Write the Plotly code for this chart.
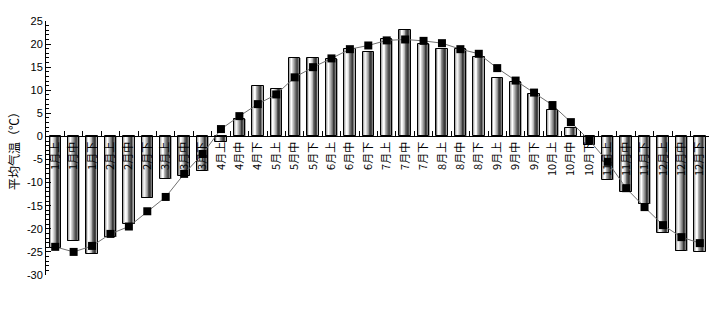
import plotly.graph_objects as go

categories = [f"{m}月{p}" for m in range(1, 13) for p in ["上", "中", "下"]]

bar_values = [-24.2, -22.6, -25.5, -21.8, -19.0, -13.3, -9.2, -8.6, -7.4,
              -1.2, 3.8, 10.9, 10.2, 16.9, 16.9, 16.7, 18.9, 18.2,
              21.0, 23.0, 20.0, 18.9, 18.9, 17.1, 12.6, 11.9, 9.1,
              5.7, 1.8, -1.9, -9.4, -12.0, -14.6, -20.9, -24.8, -25.0]

line_values = [-23.9, -25.0, -23.7, -21.1, -19.5, -16.2, -13.1, -8.1, -3.8,
               1.6, 4.4, 7.0, 9.1, 12.8, 15.0, 16.9, 18.9, 19.7,
               20.8, 21.0, 20.7, 20.2, 18.9, 17.9, 14.8, 12.1, 9.5,
               6.8, 3.1, -0.8, -5.5, -11.2, -15.3, -19.2, -21.8, -23.1]

y_tick_values = [-30, -25, -20, -15, -10, -5, 0, 5, 10, 15, 20, 25]
y_tick_labels = ["-30", "-25", "-20", "-15", "-10", "-5", "0", "5", "10", "15", "20", "25"]

# cylinder shading profile (left -> right)
shade = ["#7a7a7a", "#b0b0b0", "#e0e0e0", "#ffffff", "#f2f2f2", "#d6d6d6",
         "#b4b4b4", "#929292", "#707070", "#505050", "#383838", "#484848",
         "#7c7c7c", "#adadad"]

BAR_W = 0.62
fig = go.Figure()
n = len(shade)
sw = BAR_W / n
for k, c in enumerate(shade):
    fig.add_trace(go.Bar(
        x=categories, y=bar_values, width=sw, offset=-BAR_W / 2 + k * sw,
        marker=dict(color=c, line=dict(width=0)), showlegend=False,
        hoverinfo="skip"))

fig.add_trace(go.Bar(
    x=categories, y=bar_values, width=BAR_W, offset=-BAR_W / 2,
    marker=dict(color="rgba(0,0,0,0)", line=dict(color="black", width=1)),
    showlegend=False))

fig.add_trace(go.Scatter(
    x=categories, y=line_values, mode="lines+markers",
    line=dict(color="#707070", width=1),
    marker=dict(symbol="square", size=8, color="black"),
    showlegend=False))

fig.update_layout(
    width=710, height=320,
    margin=dict(l=46, r=1, t=21, b=45),
    paper_bgcolor="white", plot_bgcolor="white",
    barmode="overlay", bargap=0,
    font=dict(family="Liberation Sans, Arial, sans-serif", size=11, color="black"),
)

fig.update_xaxes(
    type="category", range=[-0.5, 35.5],
    anchor="free", position=30 / 55,
    showline=True, linecolor="black", linewidth=1,
    ticks="inside", ticklen=5, tickcolor="black", tickson="boundaries",
    tickangle=-90,
    tickfont=dict(family="Noto Sans CJK SC", size=11, color="black"),
    showgrid=False, zeroline=False,
)

fig.update_yaxes(
    range=[-30, 25],
    tickvals=y_tick_values, ticktext=y_tick_labels,
    showline=True, linecolor="black", linewidth=1,
    ticks="inside", ticklen=5, tickcolor="black",
    minor=dict(dtick=1, ticks="inside", ticklen=3, tickcolor="black", showgrid=False),
    showgrid=False, zeroline=False,
    title=dict(text="平均气温（℃）", font=dict(family="Noto Sans CJK SC", size=12), standoff=4),
)

fig.write_html("out.html")
